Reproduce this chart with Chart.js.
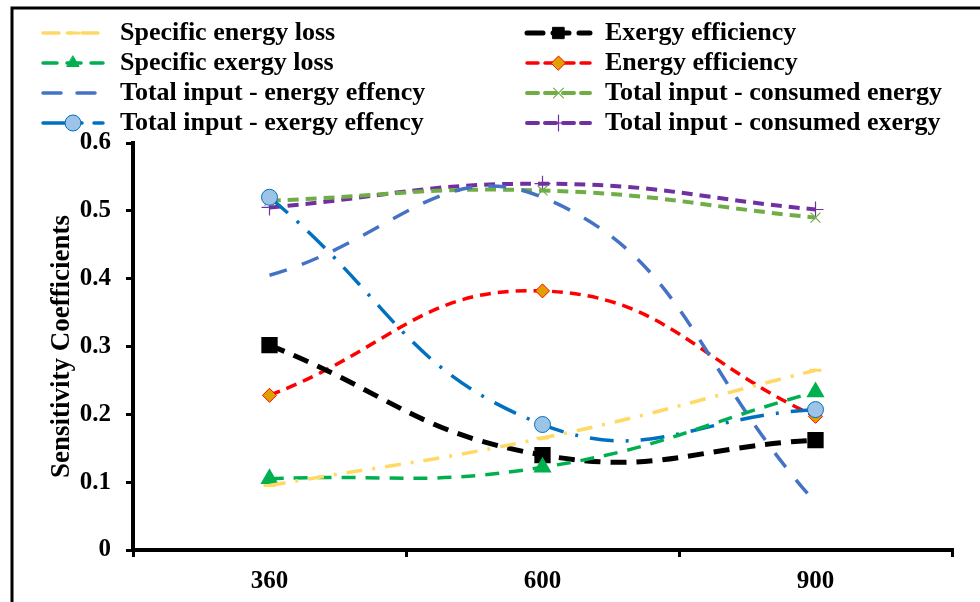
<!DOCTYPE html>
<html>
<head>
<meta charset="utf-8">
<script src="https://cdn.jsdelivr.net/npm/chart.js@4.4.1/dist/chart.umd.min.js"></script>
<style>
  html, body { margin: 0; padding: 0; background: #fff; }
  #wrap { width: 980px; height: 602px; position: relative; }
</style>
</head>
<body>
<div id="wrap"><canvas id="c" width="980" height="602"></canvas></div>
<script>
// ---- data ----
const categories = ['360', '600', '900'];
const specificEnergyLoss = [0.095, 0.165, 0.265];
const specificExergyLoss = [0.105, 0.122, 0.233];
const totalInputEnergyEff = [0.405, 0.52, 0.07];
const totalInputExergyEff = [0.52, 0.185, 0.207];
const exergyEfficiency = [0.302, 0.14, 0.162];
const energyEfficiency = [0.228, 0.382, 0.197];
const totalInputConsumedEnergy = [0.515, 0.53, 0.49];
const totalInputConsumedExergy = [0.505, 0.54, 0.502];
const yTicks = [0, 0.1, 0.2, 0.3, 0.4, 0.5, 0.6];

const FONT = "'Liberation Serif', 'Times New Roman', serif";

const datasets = [
  { label: 'Specific energy loss', data: specificEnergyLoss, borderColor: '#FFD966', backgroundColor: '#FFD966',
    borderWidth: 3.5, borderDash: [16, 10, 3, 10], pointStyle: 'line', pointRadius: 6, pointBorderColor: '#FFD966',
    pointBorderWidth: 3, pointBackgroundColor: '#FFD966', legendCol: 0, legendRow: 0 },
  { label: 'Specific exergy loss', data: specificExergyLoss, borderColor: '#00B050', backgroundColor: '#00B050',
    borderWidth: 3.5, borderDash: [14, 10], pointStyle: 'triangle', pointRadius: 7, pointBorderColor: '#00B050',
    pointBackgroundColor: '#00B050', legendCol: 0, legendRow: 1 },
  { label: 'Total input - energy effency', data: totalInputEnergyEff, borderColor: '#4472C4', backgroundColor: '#4472C4',
    borderWidth: 3.5, borderDash: [18, 16], pointRadius: 0, legendCol: 0, legendRow: 2 },
  { label: 'Total input - exergy effency', data: totalInputExergyEff, borderColor: '#0070C0', backgroundColor: '#9DC3E6',
    borderWidth: 3.5, borderDash: [24, 12, 3, 12], pointStyle: 'circle', pointRadius: 8, pointBorderColor: '#0070C0',
    pointBorderWidth: 1, pointBackgroundColor: '#9DC3E6', legendCol: 0, legendRow: 3 },
  { label: 'Exergy efficiency', data: exergyEfficiency, borderColor: '#000000', backgroundColor: '#000000',
    borderWidth: 5, borderDash: [16, 10], pointStyle: 'rect', pointRadius: 8, pointBorderColor: '#000000',
    pointBackgroundColor: '#000000', legendCol: 1, legendRow: 0 },
  { label: 'Energy efficiency', data: energyEfficiency, borderColor: '#FF0000', backgroundColor: '#E0A000',
    borderWidth: 3.5, borderDash: [11, 7], pointStyle: 'rectRot', pointRadius: 7, pointBorderColor: '#FF0000',
    pointBorderWidth: 1, pointBackgroundColor: '#E0A000', legendCol: 1, legendRow: 1 },
  { label: 'Total input - consumed energy', data: totalInputConsumedEnergy, borderColor: '#70AD47', backgroundColor: '#70AD47',
    borderWidth: 4, borderDash: [11, 7], pointStyle: 'crossRot', pointRadius: 7, pointBorderColor: '#70AD47',
    pointBorderWidth: 1.2, legendCol: 1, legendRow: 2 },
  { label: 'Total input - consumed exergy', data: totalInputConsumedExergy, borderColor: '#7030A0', backgroundColor: '#7030A0',
    borderWidth: 4, borderDash: [11, 7], pointStyle: 'cross', pointRadius: 8, pointBorderColor: '#7030A0',
    pointBorderWidth: 1.2, legendCol: 1, legendRow: 3 }
];
datasets.forEach(d => { d.tension = 0.45; d.fill = false; d.pointHoverRadius = d.pointRadius; });

// frame + custom two-column legend
const framePlugin = {
  id: 'frame',
  afterDraw(chart) {
    const ctx = chart.ctx;
    ctx.save();
    ctx.strokeStyle = '#000';
    ctx.lineWidth = 3;
    ctx.beginPath();
    ctx.moveTo(12, 602);
    ctx.lineTo(12, 8);
    ctx.lineTo(980, 8);
    ctx.stroke();

    const cols = [{ x0: 43, x1: 103, tx: 120 }, { x0: 527, x1: 590, tx: 605 }];
    const rowY = [33, 63, 93, 123];
    ctx.font = "bold 26px " + FONT;
    ctx.textBaseline = 'middle';
    ctx.textAlign = 'left';
    chart.data.datasets.forEach(ds => {
      const c = cols[ds.legendCol];
      const y = rowY[ds.legendRow];
      ctx.save();
      ctx.strokeStyle = ds.borderColor;
      ctx.lineWidth = ds.borderWidth;
      ctx.lineCap = 'round';
      ctx.setLineDash(ds.borderDash || []);
      ctx.beginPath();
      ctx.moveTo(c.x0, y);
      ctx.lineTo(c.x1, y);
      ctx.stroke();
      ctx.setLineDash([]);
      if (ds.pointRadius > 0) {
        ctx.fillStyle = ds.pointBackgroundColor || ds.backgroundColor;
        ctx.strokeStyle = ds.pointBorderColor || ds.borderColor;
        ctx.lineWidth = ds.pointBorderWidth || 1;
        Chart.helpers.drawPoint(ctx, { pointStyle: ds.pointStyle, radius: ds.pointRadius, borderWidth: ds.pointBorderWidth || 1, rotation: 0 },
          (c.x0 + c.x1) / 2, y);
      }
      ctx.restore();
      ctx.fillStyle = '#000';
      ctx.fillText(ds.label, c.tx, y);
    });
    ctx.restore();
  }
};

new Chart(document.getElementById('c'), {
  type: 'line',
  data: { labels: categories, datasets: datasets },
  options: {
    responsive: false,
    animation: false,
    devicePixelRatio: 1,
    layout: { padding: { top: 143, right: 28, left: 0, bottom: 0 } },
    plugins: { legend: { display: false }, tooltip: { enabled: false } },
    scales: {
      x: {
        offset: true,
        grid: { display: true, offset: true, drawOnChartArea: false, drawTicks: true, tickLength: 7, color: '#000', lineWidth: 3 },
        border: { display: true, color: '#000', width: 4 },
        ticks: { color: '#000', font: { family: FONT, size: 25, weight: 'bold' }, padding: 10, maxRotation: 0 },
        afterFit(scale) { scale.height = 52; }
      },
      y: {
        min: 0, max: 0.6,
        afterBuildTicks(scale) { scale.ticks = yTicks.map(v => ({ value: v })); },
        grid: { display: true, drawOnChartArea: false, drawTicks: true, tickLength: 7, color: '#000', lineWidth: 3 },
        border: { display: true, color: '#000', width: 4 },
        ticks: { color: '#000', font: { family: FONT, size: 25, weight: 'bold' }, padding: 15,
          callback: v => (v === 0 ? '0' : v.toFixed(1)) },
        title: { display: true, text: 'Sensitivity Coefficients', color: '#000',
          font: { family: FONT, size: 27, weight: 'bold' }, padding: { top: 46, bottom: 0 } },
        afterFit(scale) { scale.width = 133; }
      }
    }
  },
  plugins: [framePlugin]
});
</script>
</body>
</html>
